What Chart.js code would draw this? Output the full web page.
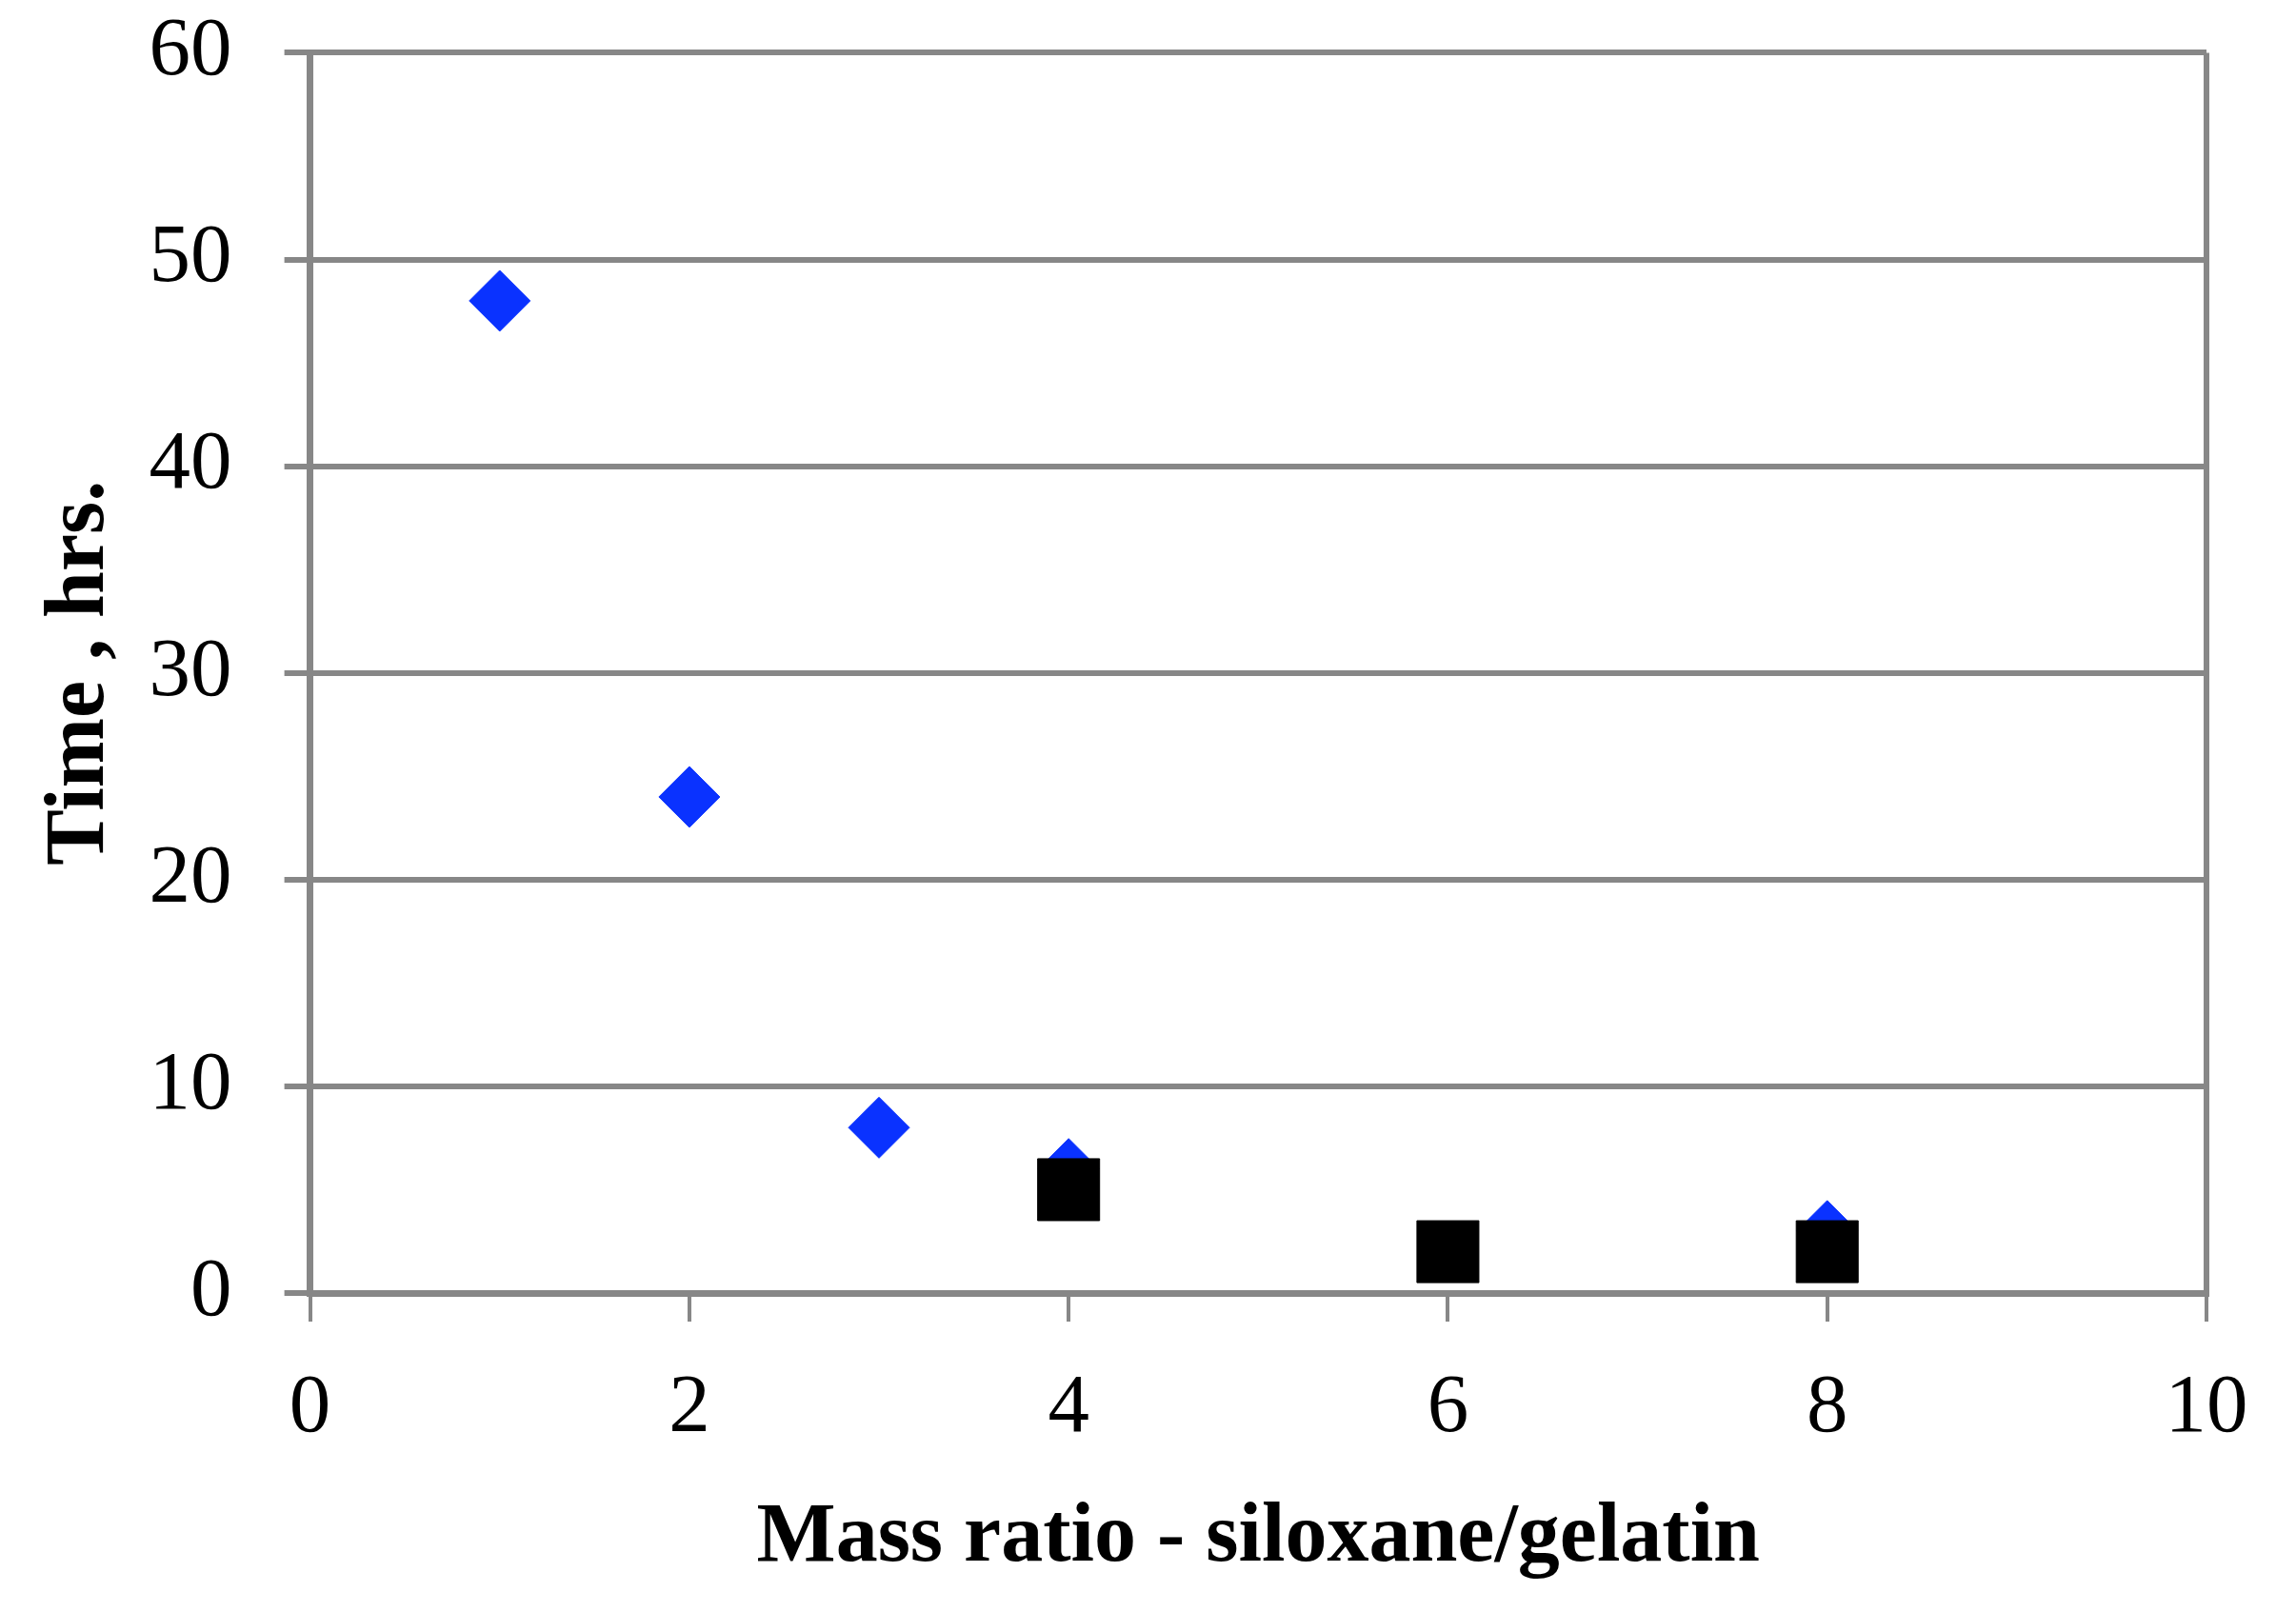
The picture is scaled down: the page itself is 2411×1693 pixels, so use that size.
<!DOCTYPE html>
<html>
<head>
<meta charset="utf-8">
<script src="https://cdn.jsdelivr.net/npm/chart.js@4"></script>
<style>
  body { margin: 0; background: #fff; }
  #caja { width: 2411px; height: 1693px; }
</style>
</head>
<body>
<div id="caja"><canvas id="grafico" width="2411" height="1693"></canvas></div>
<script>
// datos
const razonDiamantes = [1, 2, 3, 4, 8]
const tiempoDiamantes = [48, 24, 8, 6, 3]
const razonCuadros = [4, 6, 8]
const tiempoCuadros = [5, 2, 2]
const ticksX = [0, 2, 4, 6, 8, 10]
const ticksY = [0, 10, 20, 30, 40, 50, 60]

const gris = '#878787'
const fuente = "'Liberation Serif', 'Times New Roman', serif"

function Puntos(xs, ys) {
    let lista = new Array()
    for (let i = 0; i < xs.length; i++) {
        lista.push({ x: xs[i], y: ys[i] })
    }
    return lista
}

let graf = new Chart('grafico', {
    type: 'scatter',
    data: {
        datasets: [{
            // cuadros negros, van encima
            data: Puntos(razonCuadros, tiempoCuadros),
            pointStyle: 'rect',
            pointRadius: 46,
            pointHoverRadius: 46,
            backgroundColor: '#000000',
            borderColor: '#000000',
            borderWidth: 1
        }, {
            data: Puntos(razonDiamantes, tiempoDiamantes),
            pointStyle: 'rectRot',
            pointRadius: 32,
            pointHoverRadius: 32,
            backgroundColor: '#0A32FF',
            borderColor: '#0A32FF',
            borderWidth: 1
        }]
    },
    options: {
        responsive: false,
        animation: false,
        layout: { padding: { top: 0, right: 94, left: 32, bottom: 24 } },
        plugins: { legend: { display: false }, tooltip: { enabled: false } },
        scales: {
            x: {
                type: 'linear',
                min: ticksX[0],
                max: ticksX[ticksX.length - 1],
                afterBuildTicks: axis => { axis.ticks = ticksX.map(v => ({ value: v })) },
                grid: {
                    color: ctx => (ctx.tick && ctx.tick.value === 10) ? gris : 'rgba(0,0,0,0)',
                    tickColor: gris,
                    lineWidth: 6,
                    tickLength: 30,
                    tickWidth: 4
                },
                border: { color: gris, width: 7 },
                ticks: {
                    color: '#000',
                    padding: 40,
                    font: { family: fuente, size: 87 }
                },
                title: {
                    display: true,
                    text: 'Mass ratio - siloxane/gelatin',
                    color: '#000',
                    padding: { top: -9, bottom: 0 },
                    font: { family: fuente, size: 88, weight: 'bold' }
                }
            },
            y: {
                type: 'linear',
                min: ticksY[0],
                max: ticksY[ticksY.length - 1],
                afterBuildTicks: axis => { axis.ticks = ticksY.map(v => ({ value: v })) },
                grid: {
                    color: gris,
                    tickColor: gris,
                    lineWidth: 6,
                    tickLength: 27
                },
                border: { color: gris, width: 7 },
                ticks: {
                    color: '#000',
                    padding: 55,
                    // alto de linea minimo para que no empuje el area hacia abajo
                    font: { family: fuente, size: 87, lineHeight: 0.01 }
                },
                title: {
                    display: true,
                    text: 'Time , hrs.',
                    color: '#000',
                    padding: { top: 0, bottom: -36 },
                    font: { family: fuente, size: 88, weight: 'bold' }
                }
            }
        }
    }
})
</script>
</body>
</html>
